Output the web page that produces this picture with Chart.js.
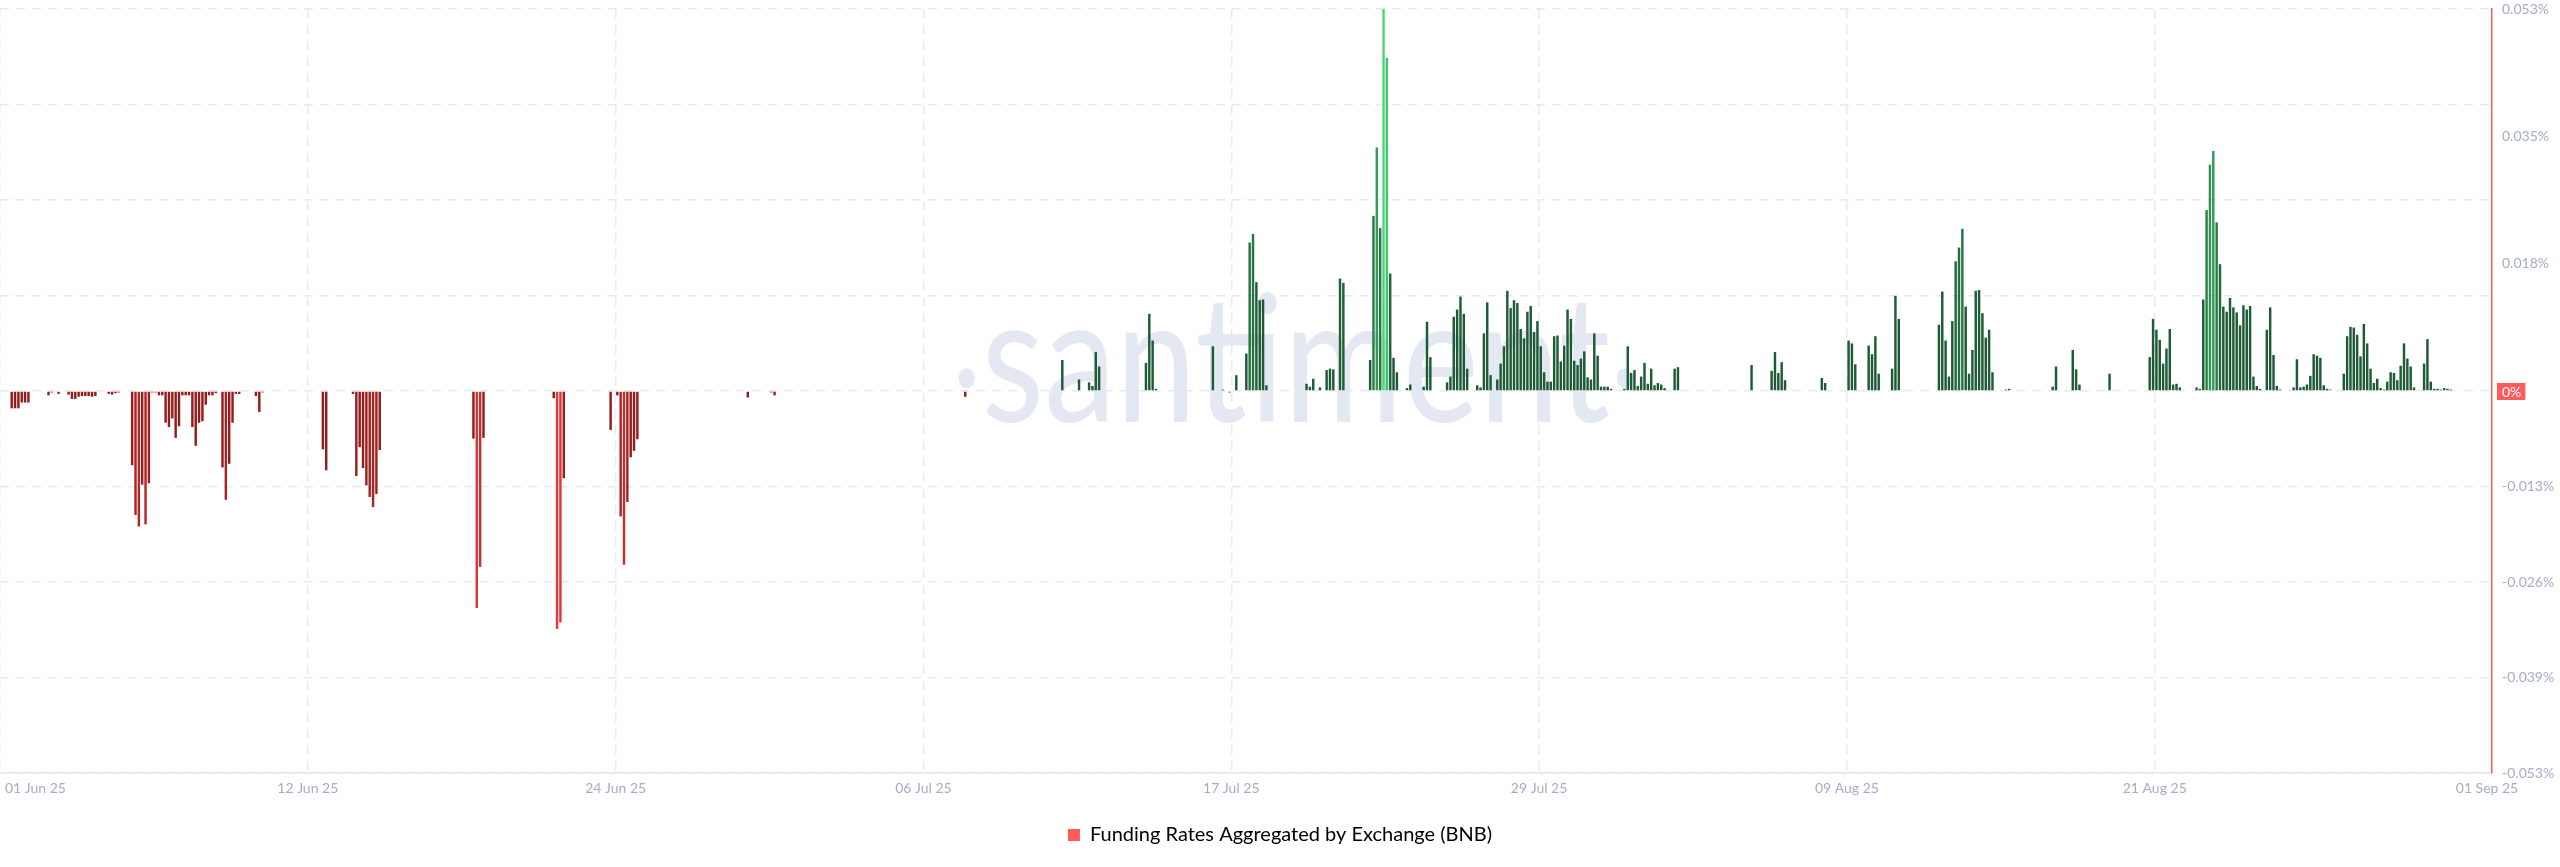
<!DOCTYPE html>
<html>
<head>
<meta charset="utf-8">
<title>Funding Rates Aggregated by Exchange (BNB)</title>
<script src="https://cdn.jsdelivr.net/npm/chart.js@4.4.1/dist/chart.umd.min.js"></script>
<style>
  html, body { margin: 0; padding: 0; background: #fff; }
  #wrap { width: 2560px; height: 867px; position: relative; }
</style>
</head>
<body>
<div id="wrap"><canvas id="chart"></canvas></div>
<script>
// funding rate in %, one value per 3h, 01 Jun 25 00:00 -> 31 Aug 25 21:00 (8 per line = 1 day)
const fundingRates = [
  0, 0, 0, -0.0024, -0.0024, -0.0024, -0.0016, -0.0016,
  -0.0016, 0, 0, 0, 0, 0, -0.0006, -0.0002,
  0, -0.0004, 0, 0, -0.0005, -0.0011, -0.0011, -0.0008,
  -0.0007, -0.0007, -0.0007, -0.0008, -0.0007, -0.0001, -0.0001, -0.0001,
  -0.0004, -0.0005, -0.0003, -0.0002, 0, 0, 0, -0.0103,
  -0.0172, -0.0188, -0.0130, -0.0185, -0.0128, -0.0002, -0.0002, -0.0006,
  -0.0006, -0.0044, -0.0050, -0.0038, -0.0065, -0.0049, -0.0006, -0.0006,
  -0.0006, -0.0050, -0.0076, -0.0044, -0.0042, -0.0019, -0.0006, -0.0006,
  -0.0003, -0.0001, -0.0106, -0.0151, -0.0101, -0.0044, -0.0004, -0.0004,
  0, 0, 0, 0, -0.0007, -0.0029, -0.0002, 0,
  0, 0, 0, 0, 0, 0, 0, 0,
  0, 0, 0, 0, 0, 0, 0, 0,
  -0.0081, -0.0110, 0, 0, 0, 0, 0, 0,
  0, -0.0004, -0.0118, -0.0078, -0.0107, -0.0131, -0.0147, -0.0161,
  -0.0143, -0.0082, 0, 0, 0, 0, 0, 0,
  0, 0, 0, 0, 0, 0, 0, 0,
  0, 0, 0, 0, 0, 0, 0, 0,
  0, 0, 0, 0, 0, -0.0066, -0.0301, -0.0244,
  -0.0065, 0, 0, 0, 0, 0, 0, 0,
  0, 0, 0, 0, 0, 0, 0, 0,
  0, 0, 0, 0, 0, -0.0010, -0.0330, -0.0321,
  -0.0121, 0, 0, 0, 0, 0, 0, 0,
  0, 0, 0, 0, 0, 0, -0.0054, 0,
  -0.0006, -0.0174, -0.0241, -0.0154, -0.0092, -0.0083, -0.0067, 0,
  0, 0, 0, 0, 0, -0.0001, 0, 0,
  0, 0, 0, 0, 0, 0, 0, 0,
  0, 0, 0, 0, 0, 0, 0, 0,
  0, 0, 0, 0, 0, 0, 0, -0.0009,
  0, 0, 0, -0.0001, 0, 0, -0.0002, -0.0006,
  0, 0, 0, 0, 0, 0, 0, 0,
  0, 0, 0, 0, 0, 0, 0, 0,
  0, 0, 0, 0, 0, 0, 0, 0,
  0, 0, 0, 0, 0, 0, 0, 0,
  0, 0, 0, 0, 0, 0, 0, 0,
  0, 0, 0, 0, 0, 0, 0, 0,
  0, 0, 0, 0, 0, 0, 0, 0,
  -0.0008, 0, 0, 0, 0, 0, 0, 0,
  0, 0, 0, 0, 0, 0, 0, 0,
  0, 0, 0, 0, 0, 0, 0, 0,
  -0.0001, 0, 0, 0, 0, 0.0043, 0, 0,
  0, 0, 0.0016, 0, 0, 0.0012, 0.0007, 0.0054,
  0.0034, 0, 0, 0, 0, 0, 0, 0,
  0, 0, 0, 0, 0, 0, 0.0039, 0.0107,
  0.0070, 0.0003, 0, 0, 0, 0, 0, 0,
  0, 0, 0, 0, 0, 0, 0, 0,
  0, 0, 0.0062, 0, 0, 0.0002, 0, -0.0002,
  0, 0.0022, 0, 0, 0.0052, 0.0206, 0.0218, 0.0151,
  0.0126, 0.0127, 0.0008, 0, 0, 0, 0, 0,
  0, 0, 0, 0, 0, 0, 0.0010, 0.0006,
  0.0017, 0, 0.0005, 0, 0.0029, 0.0031, 0.0030, 0,
  0.0156, 0.0150, 0, 0, 0, 0, 0, 0,
  0, 0.0043, 0.0243, 0.0338, 0.0226, 0.0530, 0.0462, 0.0163,
  0.0046, 0.0026, 0, 0.0001, 0.0004, 0.0009, 0, 0,
  0, 0.0006, 0.0096, 0.0047, 0, 0, 0, 0.0001,
  0.0012, 0.0020, 0.0103, 0.0113, 0.0131, 0.0107, 0.0031, 0.0001,
  0, 0.0008, 0.0005, 0.0080, 0.0123, 0.0022, 0, 0.0016,
  0.0038, 0.0062, 0.0139, 0.0115, 0.0126, 0.0122, 0.0086, 0.0073,
  0.0110, 0.0118, 0.0082, 0.0097, 0.0062, 0.0026, 0.0013, 0.0013,
  0.0076, 0.0077, 0.0041, 0.0063, 0.0113, 0.0100, 0.0042, 0.0036,
  0.0045, 0.0055, 0.0019, 0.0016, 0.0080, 0.0049, 0.0006, 0.0006,
  0.0006, 0.0003, 0, 0, 0, 0.0003, 0.0062, 0.0025,
  0.0029, 0.0007, 0.0020, 0.0039, 0.0010, 0.0031, 0.0008, 0.0011,
  0.0009, 0.0004, 0.0001, 0, 0.0031, 0.0033, 0, 0,
  0, 0, 0, 0, 0, 0, 0, 0,
  0, 0, 0, 0, 0, 0, 0, 0,
  0, 0, 0, 0.0036, 0, 0, 0, 0,
  0, 0.0028, 0.0054, 0.0025, 0.0040, 0.0015, 0, 0,
  0, 0, 0, 0, 0, 0, 0, 0,
  0.0018, 0.0011, 0, 0, 0, 0, 0, 0,
  0.0070, 0.0066, 0.0037, 0, 0, 0, 0.0063, 0.0051,
  0.0076, 0.0024, 0, 0, 0, 0.0031, 0.0132, 0.0100,
  0, 0, 0, 0, 0, 0, 0, 0,
  0, 0, 0, 0.0092, 0.0138, 0.0070, 0.0020, 0.0097,
  0.0180, 0.0199, 0.0225, 0.0117, 0.0024, 0.0057, 0.0139, 0.0140,
  0.0108, 0.0074, 0.0085, 0.0026, 0.0001, 0.0001, 0, 0.0002,
  0.0003, 0, 0, 0, 0, 0, 0, 0,
  0, 0, 0, 0, 0, 0.0006, 0.0034, 0,
  0, 0, 0, 0.0057, 0.0030, 0.0009, 0, 0,
  0, 0, 0, 0, 0, 0, 0.0024, 0,
  0, 0, 0, 0, 0, 0, 0, 0,
  0, 0, 0.0047, 0.0100, 0.0085, 0.0071, 0.0038, 0.0059,
  0.0086, 0.0009, 0.0010, 0.0005, 0.0001, 0.0001, 0.0001, 0.0001,
  0.0005, 0.0003, 0.0127, 0.0251, 0.0314, 0.0333, 0.0234, 0.0176,
  0.0117, 0.0110, 0.0129, 0.0116, 0.0109, 0.0091, 0.0119, 0.0113,
  0.0118, 0.0020, 0.0007, 0.0003, 0.0001, 0.0085, 0.0116, 0.0050,
  0.0007, 0.0002, 0, 0, 0.0001, 0.0005, 0.0044, 0.0005,
  0.0006, 0.0009, 0.0021, 0.0051, 0.0049, 0.0046, 0.0008, 0.0003,
  0.0002, 0.0001, 0, 0, 0.0024, 0.0076, 0.0089, 0.0088,
  0.0078, 0.0048, 0.0093, 0.0066, 0.0031, 0.0011, 0.0017, 0.0004,
  0.0002, 0.0013, 0.0026, 0.0025, 0.0015, 0.0035, 0.0066, 0.0045,
  0.0034, 0.0005, 0.0001, 0, 0.0038, 0.0072, 0.0013, 0.0003,
  0.0003, 0.0002, 0.0004, 0.0003, 0.0002, 0.0001, 0, 0
];

const xTickLabels = ['01 Jun 25', '12 Jun 25', '24 Jun 25', '06 Jul 25', '17 Jul 25', '29 Jul 25', '09 Aug 25', '21 Aug 25', '01 Sep 25'];
const barsPerTick = 92; // 11.5 days of 3h bars between date ticks

const yMin = -0.053;
const yMax = 0.053;
const yGridValues = [-0.053, -0.03975, -0.0265, -0.01325, 0, 0.01325, 0.0265, 0.03975, 0.053];
const yLabelValues = [0.053, 0.03533, 0.01767, 0, -0.01325, -0.0265, -0.03975, -0.053];
const yLabelTexts = ['0.053%', '0.035%', '0.018%', '0%', '-0.013%', '-0.026%', '-0.039%', '-0.053%'];

const seriesName = 'Funding Rates Aggregated by Exchange (BNB)';

const FONT = 'Lato, "Open Sans", sans-serif';
const axisText = '#a5adc6';
const gridColor = '#e6e9f1';
const red = '#ff5b5b';

const near = (a, b) => Math.abs(a - b) < 1e-6;

function mix(c1, c2, t) {
  const a = c1.match(/\w\w/g).map((h) => parseInt(h, 16));
  const b = c2.match(/\w\w/g).map((h) => parseInt(h, 16));
  return 'rgb(' + a.map((v, i) => Math.round(v + (b[i] - v) * t)).join(',') + ')';
}

// brighter bars for bigger rates
function barColor(v) {
  if (v >= 0) {
    const t = Math.max(0, Math.min(1, (v / 0.053 - 0.25) / 0.75));
    return mix('1d5a35', '48d878', t);
  }
  const t = Math.max(0, Math.min(1, (-v / 0.033 - 0.3) / 0.7));
  return mix('941c1c', 'e03a3a', t);
}

const watermark = {
  id: 'watermark',
  beforeDatasetsDraw(chart) {
    const { ctx, chartArea: a } = chart;
    const cx = a.left + a.width * 0.52;
    const base = a.top + a.height * 0.541;
    ctx.save();
    ctx.fillStyle = '#e4e8f2';
    ctx.font = '400 176px ' + FONT;
    ctx.textAlign = 'center';
    ctx.textBaseline = 'alphabetic';
    ctx.translate(cx, base);
    ctx.scale(0.82, 1);
    ctx.fillText('santiment', 0, 0);
    const half = ctx.measureText('santiment').width / 2;
    ctx.beginPath();
    ctx.arc(-half - 18, -44, 10, 0, Math.PI * 2);
    ctx.arc(half + 18, -44, 10, 0, Math.PI * 2);
    ctx.fill();
    ctx.restore();
  }
};

const axisLabels = {
  id: 'axisLabels',
  afterDraw(chart) {
    const { ctx, chartArea: a, scales: { x, y } } = chart;
    ctx.save();
    ctx.font = '14px ' + FONT;
    ctx.fillStyle = axisText;
    ctx.textAlign = 'center';
    ctx.textBaseline = 'middle';
    xTickLabels.forEach((label, k) => {
      const w = ctx.measureText(label).width;
      let px = x.getPixelForValue(k * barsPerTick);
      if (px - w / 2 < 5) px = 5 + w / 2;
      if (k === xTickLabels.length - 1) px = a.right - 5;
      ctx.fillText(label, px, a.bottom + 15);
    });

    // 0% badge on the right axis
    const py = y.getPixelForValue(0);
    ctx.font = '14px ' + FONT;
    const tw = ctx.measureText('0%').width;
    const bx = y.left + 5;
    ctx.fillStyle = red;
    ctx.fillRect(bx, py - 8, tw + 9, 17);
    ctx.fillStyle = '#fff';
    ctx.textAlign = 'left';
    ctx.fillText('0%', bx + 5, py + 1);
    ctx.restore();
  }
};

new Chart(document.getElementById('chart'), {
  type: 'bar',
  data: {
    datasets: [{
      label: seriesName,
      data: fundingRates.map((v, i) => ({ x: i + 0.5, y: v })),
      backgroundColor: (c) => barColor(c.raw ? c.raw.y : 0),
      borderWidth: 0,
      barPercentage: 0.86,
      categoryPercentage: 0.85,
    }],
  },
  options: {
    responsive: true,
    maintainAspectRatio: false,
    devicePixelRatio: 1,
    animation: false,
    layout: { padding: { top: 9, bottom: 12, left: 0, right: 0 } },
    scales: {
      x: {
        type: 'linear',
        min: 0,
        max: 744.8,
        offset: false,
        afterBuildTicks: (s) => { s.ticks = xTickLabels.map((_, k) => ({ value: k * barsPerTick })); },
        ticks: { display: false },
        grid: {
          drawTicks: false,
          offset: false,
          lineWidth: 1.5,
          // no grid line under the end date
          color: (c) => (c.index === xTickLabels.length - 1 ? 'rgba(0,0,0,0)' : gridColor),
        },
        border: { display: true, color: '#e3e6ee', width: 1.5, dash: [9, 7] },
        afterFit: (s) => { s.height = 42; s.paddingLeft = 0; s.paddingRight = 0; },
      },
      y: {
        position: 'right',
        min: yMin,
        max: yMax,
        afterBuildTicks: (s) => {
          const vals = yGridValues.concat(yLabelValues.filter((v) => !yGridValues.some((g) => near(g, v))));
          s.ticks = vals.sort((p, q) => p - q).map((v) => ({ value: v }));
        },
        ticks: {
          autoSkip: false,
          padding: 10,
          color: axisText,
          font: { family: FONT, size: 14 },
          callback: (v) => {
            if (near(v, 0)) return '';
            const k = yLabelValues.findIndex((l) => near(l, v));
            return k >= 0 ? yLabelTexts[k] : '';
          },
        },
        grid: {
          drawTicks: false,
          lineWidth: 1.5,
          color: (c) => (c.tick && yGridValues.some((g) => near(g, c.tick.value)) ? gridColor : 'rgba(0,0,0,0)'),
        },
        border: { display: true, color: red, width: 1.5, dash: [9, 7] },
        afterFit: (s) => { s.width = 68; s.paddingTop = 0; s.paddingBottom = 0; },
      },
    },
    plugins: {
      tooltip: { enabled: false },
      legend: {
        position: 'bottom',
        labels: {
          boxWidth: 12,
          boxHeight: 12,
          padding: 10,
          color: '#3c4250',
          font: { family: FONT, size: 20 },
          generateLabels: () => [{
            text: seriesName, fillStyle: red, strokeStyle: red, lineWidth: 0, hidden: false, datasetIndex: 0,
          }],
        },
      },
    },
  },
  plugins: [watermark, axisLabels],
});
</script>
</body>
</html>
